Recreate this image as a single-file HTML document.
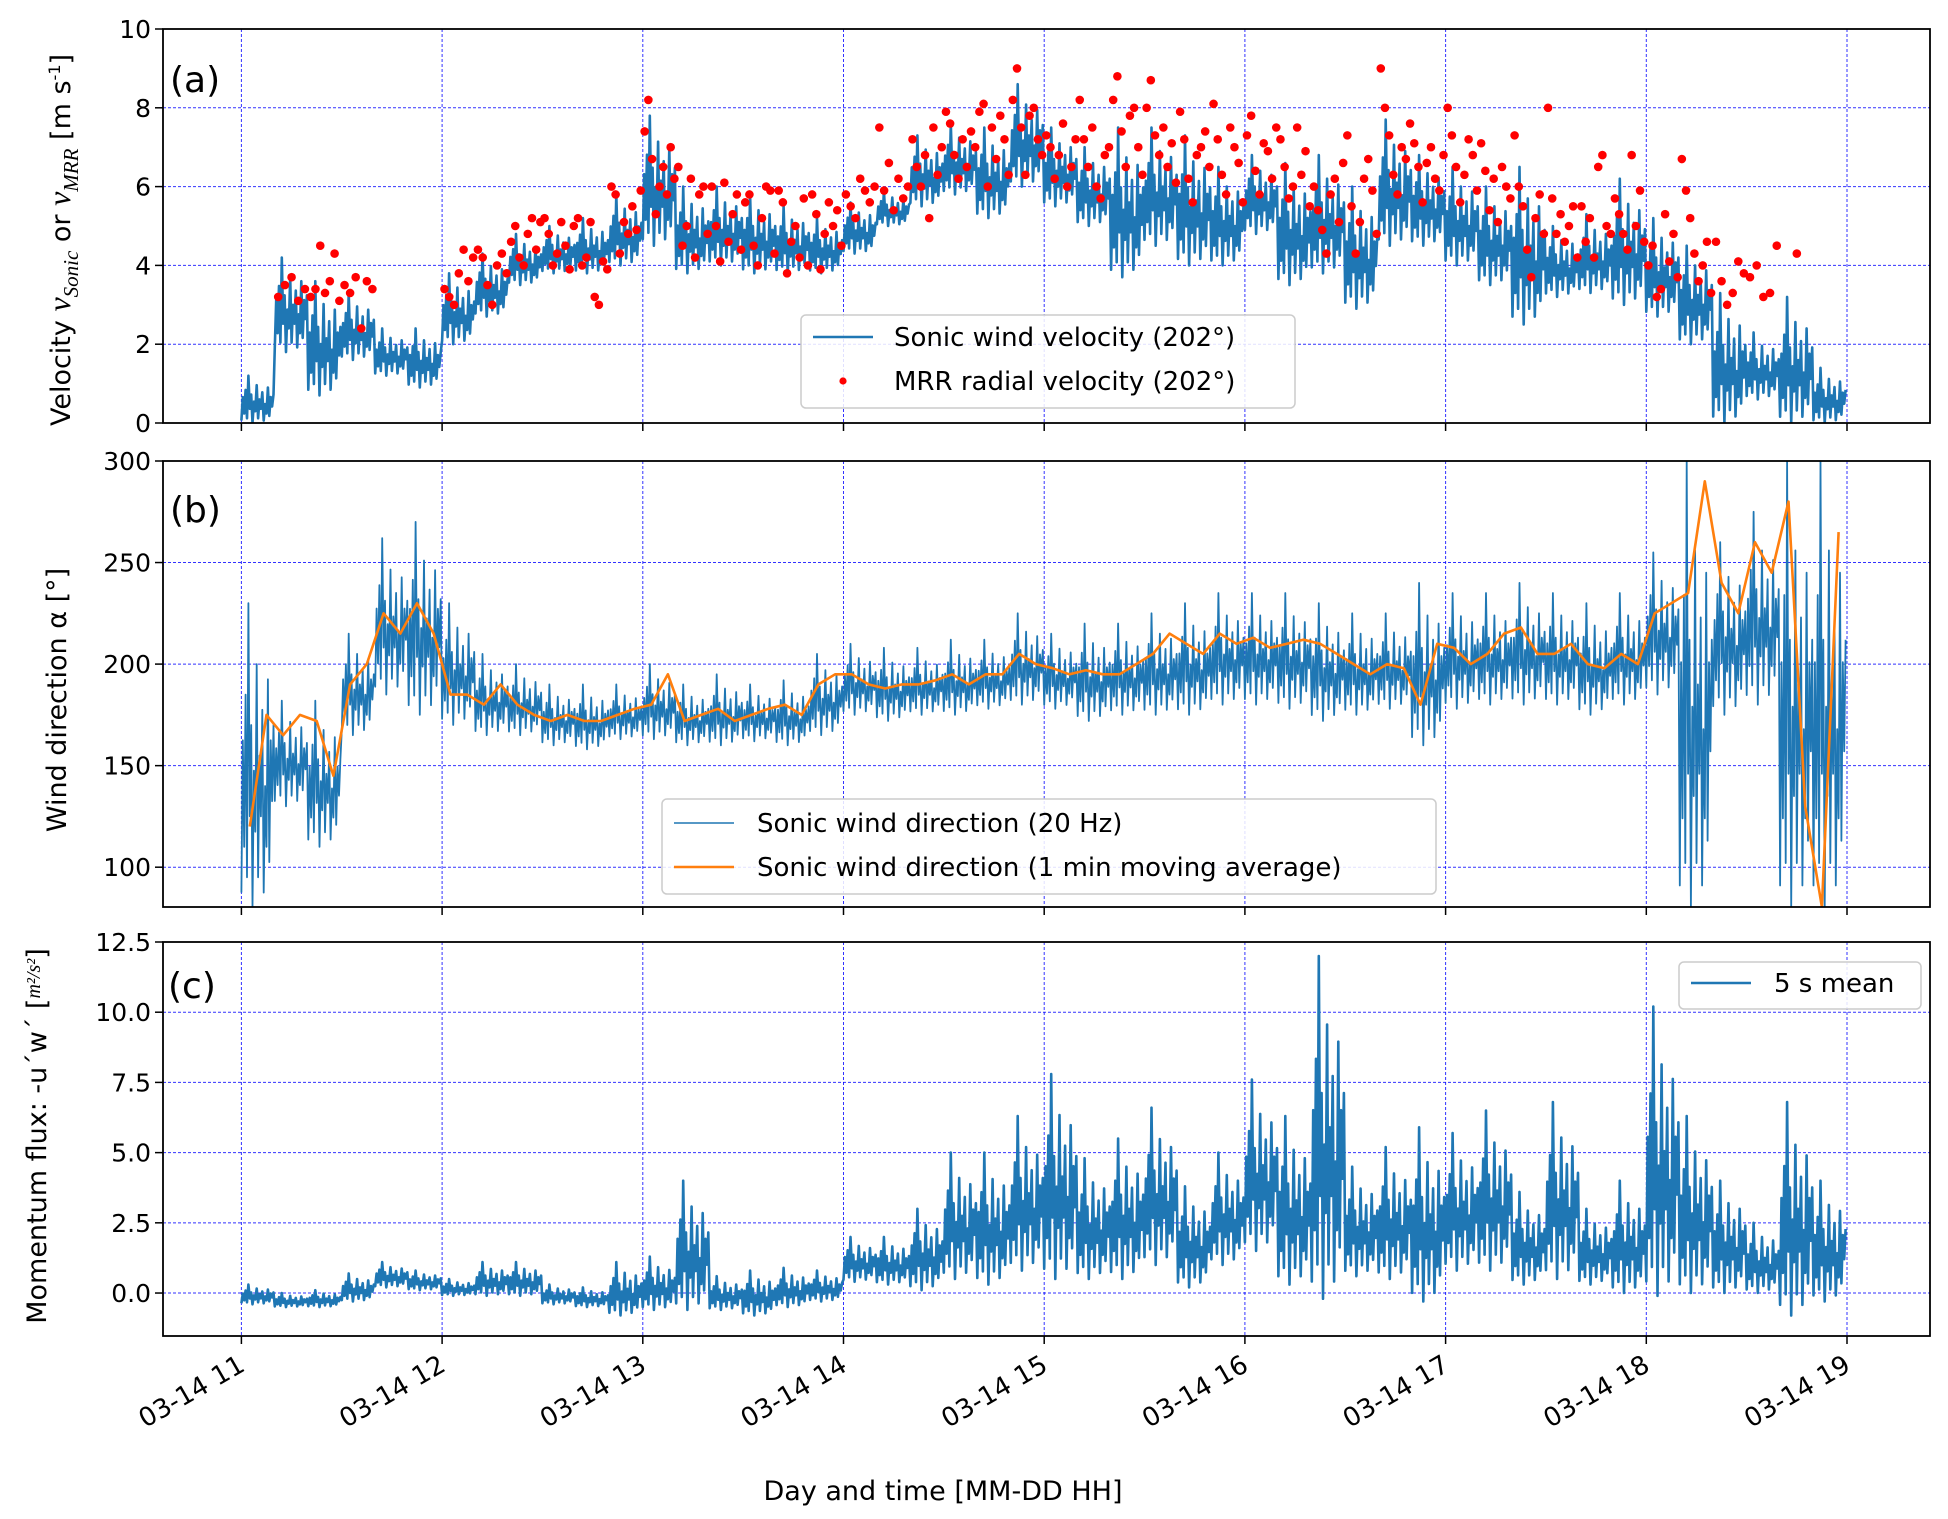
<!DOCTYPE html>
<html><head><meta charset="utf-8"><style>
html,body{margin:0;padding:0;background:#fff;}
svg{display:block;font-family:"DejaVu Sans","Liberation Sans",sans-serif;}
</style></head><body>
<svg id="chart" width="1948" height="1519" viewBox="0 0 1948 1519" xmlns="http://www.w3.org/2000/svg"></svg>
<script>
// ---- data (10-minute bins from 11:00 to 19:00) ----
const hourTicks = [11,12,13,14,15,16,17,18,19];
const hourLabels = ["03-14 11","03-14 12","03-14 13","03-14 14","03-14 15","03-14 16","03-14 17","03-14 18","03-14 19"];
const velLo = [0,1.8,0.7,1.6,1.2,0.9, 2.0,2.7,3.5,3.8,3.8,4.0, 4.5,3.8,4.0,3.8,3.8,3.8, 4.3,5.0,5.5,5.8,5.2,6.0, 5.5,5.0,3.7,4.5,4.0,4.0, 4.8,3.5,3.8,2.9,4.5,4.5, 4.0,3.5,2.5,3.2,3.3,3.0, 2.7,2.0,0,0.6,0,0];
const velHi = [1.2,4.2,3.6,3.3,2.4,2.4, 3.8,4.3,4.8,5.0,5.2,5.8, 7.8,6.0,6.0,5.8,5.5,5.2, 5.6,5.9,7.3,7.6,7.5,8.6, 7.5,7.0,7.5,7.5,7.3,6.5, 6.8,6.6,6.8,6.0,7.7,6.8, 6.5,6.0,6.5,5.0,5.3,6.2, 5.2,4.5,3.3,2.3,3.2,1.4];
const mrr = [
 [],[3.2,3.5,3.7,3.1,3.4],[3.2,3.4,4.5,3.3,3.6,4.3,3.1],[3.5,3.3,3.7,2.4,3.6,3.4],[],[],
 [3.4,3.2,3.0,3.8,4.4,3.6,4.2],[4.4,4.2,3.5,3.0,4.0,4.3,3.8],[4.6,5.0,4.2,4.0,4.8,5.2,4.4,5.1],[5.2,4.8,4.0,4.3,5.1,4.5,3.9,5.0],[5.2,4.0,4.2,5.1,3.2,3.0,4.1,3.9],[6.0,5.8,4.3,5.1,4.8,5.5,4.9,5.9],
 [7.4,8.2,6.7,5.3,6.0,6.5,5.8,7.0,6.2],[6.5,4.5,5.0,6.2,4.2,5.8,6.0,4.8],[6.0,5.0,4.1,6.1,4.6,5.3,5.8,4.4],[5.6,5.8,4.5,4.0,5.2,6.0,5.9,4.3],[5.9,5.6,3.8,4.6,5.0,4.2,5.7,4.0],[5.8,5.3,3.9,4.8,5.6,5.0,5.4,4.5],
 [5.8,5.5,5.2,6.2,5.9,5.6,6.0],[7.5,5.9,6.6,5.4,6.2,5.7,6.0],[7.2,6.5,6.0,6.8,5.2,7.5,6.3,7.0],[7.9,7.6,6.8,6.2,7.2,6.5,7.4,7.0],[7.9,8.1,6.0,7.5,6.7,7.8,7.2,6.3],[8.2,9.0,7.5,6.3,7.8,8.0,7.2,6.8],
 [7.3,7.0,6.2,6.8,7.6,6.0,6.5,7.2],[8.2,7.2,6.5,7.5,6.0,5.7,6.8,7.0],[8.2,8.8,7.4,6.5,7.8,8.0,7.0,6.3],[8.0,8.7,7.3,6.8,7.5,6.5,7.1,6.1],[7.9,7.2,6.2,5.6,6.8,7.0,7.4,6.5],[8.1,7.2,6.3,5.8,7.5,7.0,6.6,5.6],
 [7.3,7.8,6.4,5.8,7.1,6.9,6.2,7.5],[7.2,6.5,5.7,6.0,7.5,6.3,6.9,5.5],[6.0,5.4,4.9,4.3,5.8,6.2,5.1,6.6],[7.3,5.5,4.3,5.1,6.2,6.7,5.9,4.8],[9.0,8.0,7.3,6.3,5.8,7.0,6.7,7.6],[7.1,6.5,5.6,6.6,7.0,6.2,5.9,6.8],
 [8.0,7.3,6.5,5.6,6.3,7.2,6.8,5.9],[7.1,6.4,5.4,6.2,5.1,6.5,6.0,5.7],[7.3,6.0,5.5,4.4,3.7,5.2,5.8,4.8],[8.0,5.7,4.8,5.3,4.6,5.0,5.5,4.2],[5.5,4.6,5.2,4.2,6.5,6.8,5.0,4.8],[5.7,5.3,4.8,4.4,6.8,5.0,5.9,4.6],
 [4.0,4.5,3.2,3.4,5.3,4.1,4.8,3.7],[6.7,5.9,5.2,4.3,3.6,4.0,4.6,3.3],[4.6,3.6,3.0,3.3,4.1,3.8],[3.7,4.0,3.2,3.3,4.5],[4.3],[]
];
const dirLo = [80,130,110,165,185,175, 170,165,165,160,158,163, 163,160,160,162,160,165, 175,172,175,175,178,180, 178,172,175,175,175,180, 180,178,172,175,178,160, 178,180,180,180,175,180, 185,80,175,180,80,80];
const dirHi = [230,182,182,215,262,270, 230,205,200,190,190,190, 200,190,195,190,192,205, 210,208,208,212,212,225, 215,220,220,225,230,235, 235,235,230,225,225,240, 235,235,240,235,230,235, 255,300,260,275,300,300];
// 1-min moving average, 5-minute samples
const dirAvg = [120,175,165,175,172,145,190,200,225,215,230,215,
 185,185,180,190,180,175,172,175,172,172,175,178,
 180,195,172,175,178,172,175,178,180,175,190,195,
 195,190,188,190,190,192,195,190,195,195,205,200,
 198,195,197,195,195,200,205,215,210,205,215,210,
 213,208,210,212,210,205,200,195,200,198,180,210,
 208,200,205,215,218,205,205,210,200,198,205,200,
 225,230,235,290,240,225,260,245,280,130,80,265];
const fluxLo = [-0.4,-0.5,-0.5,-0.3,0.2,0.1, -0.1,-0.1,-0.1,-0.4,-0.5,-0.8, -0.6,-0.6,-0.6,-0.8,-0.5,-0.3, 0.4,0.3,0.1,0.5,0.3,0.8, 0.5,0.5,0.5,1.0,0.2,1.0, 1.5,0.3,-0.2,0.6,0.5,-0.3, 0.8,0.8,0.3,0.5,0.3,0.0, -0.1,0.0,0.0,0.0,-0.8,-0.3];
const fluxHi = [0.3,0.0,0.1,0.7,1.1,0.8, 0.5,1.1,1.1,0.3,0.2,1.1, 1.3,4.0,0.6,0.8,0.9,0.8, 2.0,2.0,3.0,5.0,5.0,6.3, 7.8,4.8,5.5,6.6,3.8,5.0, 7.6,6.3,12.0,4.5,5.2,5.9, 5.7,6.5,3.6,6.8,3.0,4.0, 10.2,6.3,4.0,2.5,6.8,4.0];

const NS = "http://www.w3.org/2000/svg";
const svg = document.getElementById("chart");
function el(tag, attrs, parent){const e=document.createElementNS(NS,tag);for(const k in attrs)e.setAttribute(k,attrs[k]);(parent||svg).appendChild(e);return e;}

const X0 = 163, X1 = 1930;
function xs(h){ return 241.4 + (h-11)*200.7; }
const panels = {
  a:{top:29,bottom:423,min:0,max:10,ticks:[0,2,4,6,8,10],fmt:v=>String(v)},
  b:{top:461,bottom:907,min:80.4,max:300,ticks:[100,150,200,250,300],fmt:v=>String(v)},
  c:{top:942,bottom:1336,min:-1.53,max:12.5,ticks:[0,2.5,5,7.5,10,12.5],fmt:v=>v.toFixed(1)}
};
function ys(p,v){ return p.bottom - (v-p.min)/(p.max-p.min)*(p.bottom-p.top); }

const zig = [0.05,0.55,0.2,0.7,0.1,1.0,0.3,0.6,0.0,0.45,0.25,0.8,0.1,0.5,0.3,0.65,0.05,0.4,0.2,0.75,0.15,0.55,0.35,0.6];
function bandPath(p, lo, hi){
  let d="";
  for(let i=0;i<lo.length;i++){
    for(let k=0;k<zig.length;k++){
      const t = 11 + (i + k/zig.length)/6;
      const v = lo[i] + (hi[i]-lo[i])*zig[k];
      d += (d?"L":"M") + xs(t).toFixed(1) + "," + ys(p,Math.max(p.min,Math.min(p.max,v))).toFixed(1);
    }
  }
  return d;
}

function drawFrame(key,name){
  const p = panels[key];
  const g = el("g",{});
  
  
  hourTicks.forEach(h=>{
    const l=el("line",{x1:xs(h),x2:xs(h),y1:p.top,y2:p.bottom,stroke:"#0000ff","stroke-width":1,"stroke-dasharray":"3,2",opacity:0.8},g);
    
    
    el("line",{x1:xs(h),x2:xs(h),y1:p.bottom,y2:p.bottom+8,stroke:"#000","stroke-width":1.5},g);
  });
  p.ticks.forEach(v=>{
    const y=ys(p,v);
    const l=el("line",{x1:X0,x2:X1,y1:y,y2:y,stroke:"#0000ff","stroke-width":1,"stroke-dasharray":"3,2",opacity:0.8},g);
    
    
    el("line",{x1:X0-8,x2:X0,y1:y,y2:y,stroke:"#000","stroke-width":1.5},g);
    const t=el("text",{x:X0-12,y:y+9,"text-anchor":"end","font-size":25,fill:"#000"},g);
    
    
    t.textContent=p.fmt(v);
  });
  return g;
}
function drawBorder(key){
  const p=panels[key];
  const r=el("rect",{x:X0,y:p.top,width:X1-X0,height:p.bottom-p.top,fill:"none",stroke:"#000","stroke-width":1.8});
  
  
}
function clip(key){
  const p=panels[key];
  const c=el("clipPath",{id:"clip"+key});
  el("rect",{x:X0,y:p.top,width:X1-X0,height:p.bottom-p.top},c);
}

// Panel a
clip("a"); drawFrame("a","velocity");
const pa=panels.a;
const velLine=el("path",{d:bandPath(pa,velLo,velHi),fill:"none",stroke:"#1f77b4","stroke-width":2.6,"stroke-linejoin":"round","clip-path":"url(#clipa)"});


const dots=el("g",{fill:"#ff0000","clip-path":"url(#clipa)"});


mrr.forEach((arr,i)=>{arr.forEach((v,k)=>{
  const t=11+(i+(k+0.5)/arr.length)/6;
  const c=el("circle",{cx:xs(t),cy:ys(pa,v),r:4.3},dots);
  
  
});});
drawBorder("a");

// Panel b
clip("b"); drawFrame("b","direction");
const pb=panels.b;
const dirLine=el("path",{d:bandPath(pb,dirLo,dirHi),fill:"none",stroke:"#1f77b4","stroke-width":1.8,"stroke-linejoin":"round","clip-path":"url(#clipb)"});


let dA="";
dirAvg.forEach((v,i)=>{const t=11+(i+0.5)/12;dA+=(i?"L":"M")+xs(t).toFixed(1)+","+ys(pb,Math.max(pb.min,v)).toFixed(1);});
const avgLine=el("path",{d:dA,fill:"none",stroke:"#ff7f0e","stroke-width":2.6,"stroke-linejoin":"round","clip-path":"url(#clipb)"});


drawBorder("b");

// Panel c
clip("c"); drawFrame("c","flux");
const pc=panels.c;
const fluxLine=el("path",{d:bandPath(pc,fluxLo,fluxHi),fill:"none",stroke:"#1f77b4","stroke-width":2.6,"stroke-linejoin":"round","clip-path":"url(#clipc)"});


drawBorder("c");

// x tick labels
hourTicks.forEach((h,i)=>{
  const x=xs(h)-4, y=1354;
  const t=el("text",{x:x,y:y,"text-anchor":"end","font-size":26,fill:"#000",transform:"rotate(-30 "+x+" "+y+")",dy:"0.7em"});
  
  
  t.textContent=hourLabels[i];
});
</script>
<svg style="position:absolute;left:0;top:0" width="1948" height="1519" font-family="DejaVu Sans, Liberation Sans, sans-serif">
  <text x="170" y="92" font-size="36">(a)</text>
  <text x="170" y="522" font-size="36">(b)</text>
  <text x="168" y="998" font-size="36">(c)</text>
  <text transform="translate(70,240) rotate(-90)" text-anchor="middle" font-size="27">Velocity  <tspan font-family="Liberation Serif, serif" font-style="italic" font-size="32">v</tspan><tspan font-family="Liberation Serif, serif" font-style="italic" font-size="21" dy="8">Sonic</tspan><tspan dy="-8">  or  </tspan><tspan font-family="Liberation Serif, serif" font-style="italic" font-size="32">v</tspan><tspan font-family="Liberation Serif, serif" font-style="italic" font-size="21" dy="8">MRR</tspan><tspan dy="-8">  [m s</tspan><tspan font-size="16" dy="-10">-1</tspan><tspan dy="10">]</tspan></text>
  <text transform="translate(66,700) rotate(-90)" text-anchor="middle" font-size="27">Wind direction  α [°]</text>
  <text transform="translate(46,1136) rotate(-90)" text-anchor="middle" font-size="27">Momentum flux:  -u´w´ [<tspan font-family="Liberation Serif, serif" font-style="italic" font-size="20" dy="-6">m²/s²</tspan><tspan dy="6">]</tspan></text>
  <text x="943" y="1500" text-anchor="middle" font-size="27">Day and time  [MM-DD HH]</text>
  <g>
    <rect x="801" y="315" width="494" height="93" rx="5" fill="#fff" fill-opacity="0.85" stroke="#ccc" stroke-width="1.5"/>
    <line x1="813" y1="337" x2="873" y2="337" stroke="#1f77b4" stroke-width="2.6"/>
    <text x="894" y="346" font-size="26">Sonic wind velocity (202°)</text>
    <circle cx="843" cy="381" r="3.6" fill="#ff0000"/>
    <text x="894" y="390" font-size="26">MRR radial velocity (202°)</text>
  </g>
  <g>
    <rect x="662" y="799" width="774" height="95" rx="5" fill="#fff" fill-opacity="0.85" stroke="#ccc" stroke-width="1.5"/>
    <line x1="674" y1="823" x2="734" y2="823" stroke="#1f77b4" stroke-width="1.4"/>
    <text x="757" y="832" font-size="26">Sonic wind direction (20 Hz)</text>
    <line x1="674" y1="867" x2="734" y2="867" stroke="#ff7f0e" stroke-width="2.6"/>
    <text x="757" y="876" font-size="26">Sonic wind direction (1 min moving average)</text>
  </g>
  <g>
    <rect x="1679" y="962" width="242" height="47" rx="5" fill="#fff" fill-opacity="0.85" stroke="#ccc" stroke-width="1.5"/>
    <line x1="1691" y1="983" x2="1751" y2="983" stroke="#1f77b4" stroke-width="2.6"/>
    <text x="1774" y="992" font-size="26">5 s mean</text>
  </g>
</svg>
</body></html>
